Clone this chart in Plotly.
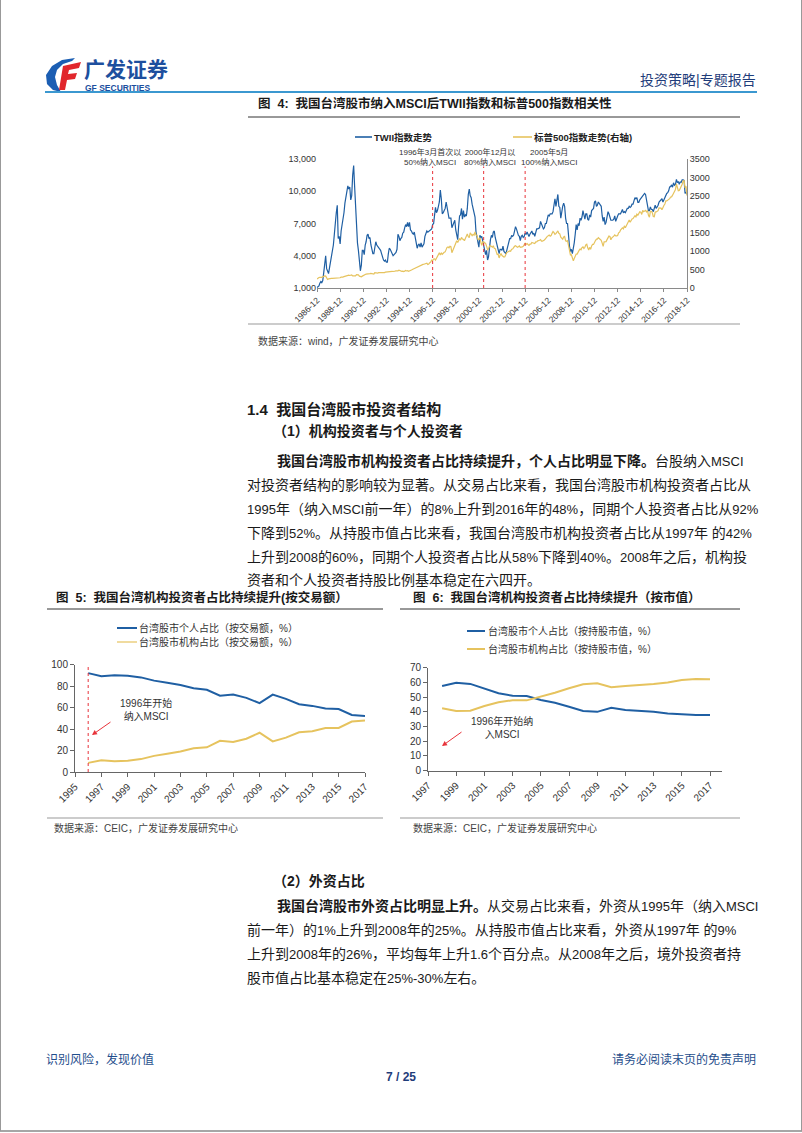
import re
import plotly.graph_objects as go
import pandas as pd

W, H = 802, 1133
FONT = "Liberation Sans, Noto Sans CJK SC, sans-serif"
BLUE = "#1f5fa3"
YELLOW = "#e6c35e"
RED = "#e8333a"
TXT = "#1a1a1a"

# ---------------- Figure 4 data (monthly, 1986-12 .. 2018-12) ----------------
TWII = [
    1040,
    1100, 1200, 1450, 1600, 1500, 1700, 2400, 3000, 4000, 2800, 2500, 2340,
    2900, 3400, 3900, 4700, 5000, 6000, 7500, 8000, 8700, 5600, 5800, 5100,
    6300, 6800, 7300, 8000, 8900, 9600, 9800, 10500, 10200, 10400, 9200, 9600,
    11500, 12400, 10600, 8800, 6500, 5200, 4500, 3200, 2600, 3100, 4500, 4500,
    4100, 5000, 5300, 5900, 6000, 5600, 5700, 5000, 4700, 4200, 4200, 4600,
    5300, 5000, 4900, 4800, 4600, 4500, 4200, 3800, 3600, 3500, 3600, 3400,
    3400, 4200, 4700, 4600, 4400, 4200, 4000, 4100, 4200, 4300, 4600, 6000,
    5800, 5400, 5600, 5700, 6100, 6200, 6600, 6900, 6700, 7100, 6700, 7100,
    6400, 6300, 6100, 6000, 6200, 5800, 5200, 4700, 5000, 5100, 4800, 5200,
    4800, 5000, 5100, 5800, 6000, 6300, 6200, 6300, 6400, 6500, 6500, 6900,
    7000, 7800, 8500, 8000, 8200, 8600, 9000, 10100, 9300, 7900, 8000, 8200,
    8400, 9000, 8500, 8200, 7500, 7500, 7500, 6600, 6800, 7000, 7300, 6400,
    6000, 5500, 6700, 7700, 7800, 8400, 7400, 8200, 7600, 7800, 7700, 8400,
    9700, 10200, 9600, 9400, 8800, 8300, 8000, 7600, 6200, 5600, 5300, 4800,
    5900, 5700, 5800, 5400, 4900, 4400, 4100, 4500, 3600, 3900, 4900, 5500,
    5900, 5700, 6200, 6300, 5700, 5300, 4900, 4800, 4200, 4600, 4600, 4500,
    4900, 4400, 4300, 4200, 4500, 4900, 5300, 5600, 5600, 5900, 5800, 5900,
    6300, 6700, 6500, 6100, 5900, 5800, 5400, 5800, 5900, 5700, 5800, 6100,
    6000, 6200, 6000, 5800, 6000, 6200, 6300, 6000, 6100, 5800, 6200, 6500,
    6500, 6600, 6600, 7200, 6900, 6700, 6500, 6600, 7000, 7000, 7300, 7800,
    7700, 7900, 7900, 7900, 8100, 8800, 9300, 8600, 9400, 9700, 8600, 8500,
    7500, 8400, 8600, 8900, 8600, 7500, 7000, 7000, 5700, 4900, 4400, 4600,
    4200, 4600, 5200, 6000, 6900, 6400, 7000, 6800, 7500, 7300, 7600, 8200,
    7600, 7400, 7900, 7900, 7400, 7300, 7800, 7600, 8200, 8300, 8400, 9000,
    9100, 8600, 8700, 9000, 8900, 8700, 8600, 7700, 7200, 7600, 6900, 7100,
    7500, 8100, 7900, 7500, 7300, 7300, 7300, 7400, 7700, 7200, 7600, 7700,
    7900, 7900, 7900, 8100, 8300, 8000, 8100, 8000, 8200, 8400, 8400, 8600,
    8500, 8600, 8800, 8800, 9100, 9400, 9300, 9400, 8970, 8970, 9200, 9300,
    9400, 9600, 9600, 9800, 9700, 9300, 8600, 8200, 8200, 8550, 8300, 8300,
    8100, 8400, 8700, 8400, 8500, 8700, 9000, 9100, 9200, 9300, 9000, 9250,
    9450, 9750, 9800, 9870, 10040, 10400, 10430, 10590, 10380, 10790, 10560, 10640,
    11100, 10800, 10900, 10650, 10870, 10840, 11060, 11060, 11000, 9800, 9890, 9730,
]
SPX = [
    242,
    274, 284, 292, 288, 290, 304, 318, 330, 322, 252, 230, 247,
    257, 268, 259, 261, 262, 274, 272, 262, 272, 279, 274, 278,
    297, 289, 295, 310, 321, 318, 346, 351, 349, 340, 346, 353,
    329, 332, 340, 331, 361, 358, 356, 322, 306, 304, 322, 330,
    344, 367, 375, 375, 390, 371, 388, 395, 388, 392, 375, 417,
    409, 413, 404, 415, 415, 408, 424, 414, 418, 419, 431, 436,
    439, 443, 452, 440, 450, 451, 448, 464, 459, 468, 462, 466,
    482, 467, 446, 451, 457, 444, 458, 475, 463, 472, 454, 459,
    470, 487, 501, 515, 533, 545, 562, 562, 584, 582, 605, 616,
    636, 640, 645, 654, 669, 671, 640, 652, 687, 705, 757, 741,
    786, 791, 757, 801, 848, 885, 954, 899, 947, 915, 955, 970,
    980, 1049, 1102, 1112, 1091, 1134, 1121, 957, 1017, 1099, 1164, 1229,
    1280, 1238, 1286, 1335, 1302, 1373, 1329, 1320, 1283, 1363, 1389, 1469,
    1394, 1366, 1499, 1452, 1421, 1455, 1431, 1518, 1437, 1429, 1315, 1320,
    1366, 1240, 1160, 1249, 1256, 1224, 1211, 1134, 1041, 1060, 1139, 1148,
    1130, 1107, 1147, 1076, 1067, 990, 912, 916, 815, 886, 936, 880,
    856, 841, 848, 917, 964, 975, 990, 1008, 996, 1051, 1058, 1112,
    1131, 1145, 1126, 1107, 1121, 1141, 1102, 1104, 1115, 1130, 1174, 1212,
    1181, 1204, 1181, 1157, 1192, 1191, 1234, 1220, 1229, 1207, 1249, 1248,
    1280, 1281, 1295, 1311, 1270, 1270, 1277, 1304, 1336, 1378, 1401, 1418,
    1438, 1407, 1421, 1482, 1531, 1503, 1455, 1474, 1527, 1549, 1481, 1468,
    1378, 1331, 1323, 1386, 1400, 1280, 1267, 1283, 1165, 969, 896, 903,
    826, 735, 798, 873, 919, 919, 987, 1021, 1057, 1036, 1096, 1115,
    1074, 1104, 1169, 1187, 1089, 1031, 1102, 1049, 1141, 1183, 1181, 1258,
    1286, 1327, 1326, 1364, 1345, 1321, 1292, 1219, 1131, 1253, 1247, 1258,
    1312, 1366, 1408, 1398, 1310, 1362, 1379, 1407, 1441, 1412, 1416, 1426,
    1498, 1515, 1569, 1598, 1631, 1606, 1686, 1633, 1682, 1757, 1806, 1848,
    1783, 1859, 1872, 1884, 1924, 1960, 1931, 2003, 1972, 2018, 2068, 2059,
    1995, 2105, 2068, 2086, 2107, 2063, 2104, 1972, 1920, 2079, 2080, 2044,
    1940, 1932, 2060, 2065, 2097, 2099, 2174, 2171, 2168, 2126, 2199, 2239,
    2279, 2364, 2363, 2384, 2412, 2423, 2470, 2472, 2519, 2575, 2648, 2674,
    2824, 2714, 2641, 2648, 2705, 2718, 2816, 2902, 2914, 2712, 2760, 2507,
]
F4_TICKS = ["1986-12", "1988-12", "1990-12", "1992-12", "1994-12", "1996-12",
            "1998-12", "2000-12", "2002-12", "2004-12", "2006-12", "2008-12",
            "2010-12", "2012-12", "2014-12", "2016-12", "2018-12"]
F4_LEFT_TICKS = [1000, 4000, 7000, 10000, 13000]
F4_RIGHT_TICKS = [0, 500, 1000, 1500, 2000, 2500, 3000, 3500]
F4_EVENTS = ["1996-12-01", "2001-05-01", "2004-12-01"]
F4_EVENT_TEXT = ["1996年3月首次以<br>50%纳入MSCI", "2000年12月以<br>80%纳入MSCI", "2005年5月<br>100%纳入MSCI"]

# ---------------- Figure 5 data (by turnover) ----------------
F5_YEARS = list(range(1996, 2018))
F5_PERSONAL = [92, 89, 90, 89.5, 88, 85, 83, 81, 78, 76.5, 71, 72, 69, 64, 72, 68, 63, 61.5, 59, 58.6, 53, 52]
F5_INST = [8.5, 11, 10, 10.5, 12, 15, 17, 19, 22, 23, 29, 28, 31, 36.5, 28.5, 32, 37, 38, 41, 41, 47, 48]
F5_TICKS = list(range(1995, 2018, 2))

# ---------------- Figure 6 data (by market value) ----------------
F6_YEARS = list(range(1998, 2018))
F6_PERSONAL = [57.6, 59.8, 59, 56, 52.6, 51, 50.8, 48, 46.2, 43.5, 40.6, 40, 42.8, 41.3, 40.8, 40, 38.8, 38.1, 37.9, 37.9]
F6_INST = [42.4, 40.6, 40.8, 44, 46.5, 47.9, 47.8, 50.3, 53, 56, 58.7, 59.4, 56.7, 57.6, 58.1, 59, 60, 61.7, 62.3, 62.2]
F6_TICKS = list(range(1997, 2018, 2))


def px(x):
    return x / W


def py(y):
    return 1 - y / H


dates = pd.date_range("1986-12-01", periods=len(TWII), freq="MS")

fig = go.Figure()
fig.add_trace(go.Scatter(x=dates, y=TWII, mode="lines", xaxis="x", yaxis="y",
                         line=dict(color=BLUE, width=1.2), showlegend=False, name="TWII指数走势"))
fig.add_trace(go.Scatter(x=dates, y=SPX, mode="lines", xaxis="x", yaxis="y2",
                         line=dict(color=YELLOW, width=1.2), showlegend=False, name="标普500指数走势(右轴)"))
fig.add_trace(go.Scatter(x=F5_YEARS, y=F5_PERSONAL, mode="lines", xaxis="x2", yaxis="y3",
                         line=dict(color=BLUE, width=2), showlegend=False, name="台湾股市个人占比（按交易额，%）"))
fig.add_trace(go.Scatter(x=F5_YEARS, y=F5_INST, mode="lines", xaxis="x2", yaxis="y3",
                         line=dict(color=YELLOW, width=2), showlegend=False, name="台湾股市机构占比（按交易额，%）"))
fig.add_trace(go.Scatter(x=F6_YEARS, y=F6_PERSONAL, mode="lines", xaxis="x3", yaxis="y4",
                         line=dict(color=BLUE, width=2), showlegend=False, name="台湾股市个人占比（按持股市值，%）"))
fig.add_trace(go.Scatter(x=F6_YEARS, y=F6_INST, mode="lines", xaxis="x3", yaxis="y4",
                         line=dict(color=YELLOW, width=2), showlegend=False, name="台湾股市机构占比（按持股市值，%）"))

axis_common = dict(showgrid=False, zeroline=False, showline=True, linecolor="#8a8a8a", linewidth=1,
                   automargin=False, ticks="outside", tickcolor="#8a8a8a", ticklen=3,
                   tickfont=dict(size=9, color="#333", family=FONT))

fig.update_layout(
    width=W, height=H, margin=dict(l=0, r=0, t=0, b=0, pad=0, autoexpand=False),
    showlegend=False,
    paper_bgcolor="white", plot_bgcolor="white", font=dict(family=FONT, color=TXT),
    xaxis=dict(axis_common, domain=[px(317), px(687)], anchor="y", type="date",
               range=["1986-12-01", "2018-12-01"], tickvals=[t + "-01" for t in F4_TICKS],
               ticktext=F4_TICKS, tickangle=-45, tickfont=dict(size=8.5, color="#333", family=FONT)),
    yaxis=dict(axis_common, domain=[py(288), py(159)], anchor="x", range=[1000, 13000],
               tickvals=F4_LEFT_TICKS, tickformat=",", showline=False, ticks=""),
    yaxis2=dict(axis_common, overlaying="y", side="right", anchor="x", range=[0, 3500],
                tickvals=F4_RIGHT_TICKS, ticks=""),
    xaxis2=dict(axis_common, domain=[px(75), px(365)], anchor="y3", range=[1995, 2017],
                tickvals=F5_TICKS, tickangle=-45, linecolor="#666", tickcolor="#666", ticklen=4,
                tickfont=dict(size=10, color="#333", family=FONT)),
    yaxis3=dict(axis_common, domain=[py(772), py(664.5)], anchor="x2", range=[0, 100],
                tickvals=[0, 20, 40, 60, 80, 100], linecolor="#666", tickcolor="#666", ticklen=4,
                tickfont=dict(size=10, color="#333", family=FONT)),
    xaxis3=dict(axis_common, domain=[px(428), px(722)], anchor="y4", range=[1997, 2017.85],
                tickvals=F6_TICKS, tickangle=-45, linecolor="#666", tickcolor="#666", ticklen=4,
                tickfont=dict(size=10, color="#333", family=FONT)),
    yaxis4=dict(axis_common, domain=[py(770.7), py(667.7)], anchor="x3", range=[0, 70],
                tickvals=[0, 10, 20, 30, 40, 50, 60, 70], linecolor="#666", tickcolor="#666", ticklen=4,
                tickfont=dict(size=10, color="#333", family=FONT)),
)

shapes = []
ann = []


def hline(x0, x1, y, color, width=1):
    shapes.append(dict(type="line", xref="paper", yref="paper", x0=px(x0), x1=px(x1), y0=py(y), y1=py(y),
                       line=dict(color=color, width=width)))


def text(x, y, s, size=14, color=TXT, anchor="left", bold=False):
    if bold:
        s = "<b>" + s + "</b>"
    ann.append(dict(xref="paper", yref="paper", x=px(x), y=py(y), text=s, showarrow=False,
                    xanchor=anchor, yanchor="middle", borderpad=0,
                    font=dict(size=size, color=color, family=FONT)))


def latin_small(s, size):
    # render runs of Latin letters / digits slightly smaller, as in the reference typesetting
    parts = re.split(r"(<[^>]+>)", s)
    out = []
    for p in parts:
        if p.startswith("<"):
            out.append(p)
        else:
            out.append(re.sub(r"([0-9A-Za-z%.\-]+)",
                              lambda m: f'<span style="font-size:{size}px">{m.group(1)}</span>', p))
    return "".join(out)


def poly(points, color):
    d = "M " + " L ".join(f"{px(a):.5f},{py(b):.5f}" for a, b in points) + " Z"
    shapes.append(dict(type="path", xref="paper", yref="paper", path=d, fillcolor=color,
                       line=dict(width=0)))


# ---------------- Page header ----------------
poly([(75, 58), (62, 60), (52, 66), (46, 75), (47, 84), (53, 90), (61, 92), (57, 85),
      (55, 77), (57, 70), (63, 64), (72, 61)], "#1b5eb3")
poly([(63, 66), (81, 62), (79, 68), (69, 70), (68, 74), (77, 73), (75, 79), (67, 80), (65, 90), (59, 90)],
     "#e1262c")
text(83, 69, "广发证券", size=21, color="#1d4f9e", bold=True)
text(84, 87.5, "GF SECURITIES", size=8.5, color="#1d4f9e", bold=True)
text(757, 80, "投资策略|专题报告", size=14, color="#1f3d7a", anchor="right")
hline(45, 757, 92, "#3b98d0", 2)

# ---------------- Figure 4 frame ----------------
text(257, 103, "图  4:  我国台湾股市纳入MSCI后TWII指数和标普500指数相关性", size=12.5, bold=True)
hline(248, 740, 117, "#333", 1)
hline(248, 740, 324, "#999", 1)
text(257, 341, "数据来源：wind，广发证券发展研究中心", size=10, color="#444")

# legend fig 4
hline(355, 372, 137, BLUE, 1.6)
text(373, 137, "TWII指数走势", size=9.5, bold=True, color="#222")
hline(513, 532, 137, YELLOW, 1.6)
text(533, 137, "标普500指数走势(右轴)", size=9.5, bold=True, color="#222")

for d, t, xl in zip(F4_EVENTS, F4_EVENT_TEXT, [398, 463, 520]):
    shapes.append(dict(type="line", xref="x", yref="y", x0=d, x1=d, y0=1000, y1=12300,
                       line=dict(color=RED, width=1, dash="dot")))
    text(xl, 157, t, size=8, color="#333")

# ---------------- Section 1.4 text ----------------
text(246, 410, "1.4  我国台湾股市投资者结构", size=15, bold=True)
text(272, 431, "（1）机构投资者与个人投资者", size=14, bold=True)
P1 = [
    (276, 461, "<b>我国台湾股市机构投资者占比持续提升，个人占比明显下降。</b>台股纳入MSCI"),
    (246, 485, "对投资者结构的影响较为显著。从交易占比来看，我国台湾股市机构投资者占比从"),
    (246, 509, "1995年（纳入MSCI前一年）的8%上升到2016年的48%，同期个人投资者占比从92%"),
    (246, 533, "下降到52%。从持股市值占比来看，我国台湾股市机构投资者占比从1997年 的42%"),
    (246, 557, "上升到2008的60%，同期个人投资者占比从58%下降到40%。2008年之后，机构投"),
    (246, 580, "资者和个人投资者持股比例基本稳定在六四开。"),
]
for x, y, s in P1:
    text(x, y, latin_small(s, 13), size=14)

# ---------------- Figure 5 frame ----------------
text(55, 598, "图  5:  我国台湾机构投资者占比持续提升(按交易额）", size=12.5, bold=True)
hline(47, 383, 609, "#333", 1)
hline(117, 137, 628, BLUE, 2)
text(138, 628, "台湾股市个人占比（按交易额，%）", size=10, color="#333")
hline(117, 137, 642, YELLOW, 1.2)
text(138, 642, "台湾股市机构占比（按交易额，%）", size=10, color="#333")
shapes.append(dict(type="line", xref="x2", yref="y3", x0=1996, x1=1996, y0=0, y1=100,
                   line=dict(color=RED, width=1, dash="dot")))
text(119, 709, "1996年开始<br>纳入MSCI", size=10, color="#333")
ann.append(dict(xref="paper", yref="paper", x=px(92), y=py(735), ax=20, ay=-14, text="",
                showarrow=True, arrowhead=2, arrowsize=1, arrowwidth=1, arrowcolor=RED))
hline(47, 383, 818, "#999", 1)
text(53, 828, "数据来源：CEIC，广发证券发展研究中心", size=10, color="#444")

# ---------------- Figure 6 frame ----------------
text(412, 598, "图  6:  我国台湾机构投资者占比持续提升（按市值）", size=12.5, bold=True)
hline(400, 740, 609, "#333", 1)
hline(467, 485, 631, BLUE, 2)
text(487, 631, "台湾股市个人占比（按持股市值，%）", size=10, color="#333")
hline(467, 485, 649, YELLOW, 2)
text(487, 649, "台湾股市机构占比（按持股市值，%）", size=10, color="#333")
text(470, 727, "1996年开始纳<br>入MSCI", size=10, color="#333")
ann.append(dict(xref="paper", yref="paper", x=px(442), y=py(746), ax=21, ay=-15, text="",
                showarrow=True, arrowhead=2, arrowsize=1, arrowwidth=1, arrowcolor=RED))
hline(400, 740, 818, "#999", 1)
text(412, 828, "数据来源：CEIC，广发证券发展研究中心", size=10, color="#444")

# ---------------- Section 2 text ----------------
text(272, 881, "（2）外资占比", size=14, bold=True)
P2 = [
    (276, 906, "<b>我国台湾股市外资占比明显上升。</b>从交易占比来看，外资从1995年（纳入MSCI"),
    (246, 930, "前一年）的1%上升到2008年的25%。从持股市值占比来看，外资从1997年 的9%"),
    (246, 954, "上升到2008年的26%，平均每年上升1.6个百分点。从2008年之后，境外投资者持"),
    (246, 978, "股市值占比基本稳定在25%-30%左右。"),
]
for x, y, s in P2:
    text(x, y, latin_small(s, 13), size=14)

# ---------------- Footer ----------------
text(45, 1059, "识别风险，发现价值", size=12, color="#1f4e8c")
text(757, 1059, "请务必阅读末页的免责声明", size=12, color="#1f4e8c", anchor="right")
text(401, 1077, "7 / 25", size=12, color="#1f3d7a", anchor="center", bold=True)
hline(0, 802, 1131, "#888", 1.5)
shapes.append(dict(type="line", xref="paper", yref="paper", x0=px(0.5), x1=px(0.5), y0=py(0), y1=py(1131),
                   line=dict(color="#999", width=1)))
shapes.append(dict(type="line", xref="paper", yref="paper", x0=px(801.5), x1=px(801.5), y0=py(0), y1=py(1131),
                   line=dict(color="#999", width=1)))

fig.update_layout(shapes=shapes, annotations=ann)
fig.write_html("out.html", config={"displayModeBar": False},
               post_script="document.body.style.margin='0px';document.body.style.padding='0px';")
